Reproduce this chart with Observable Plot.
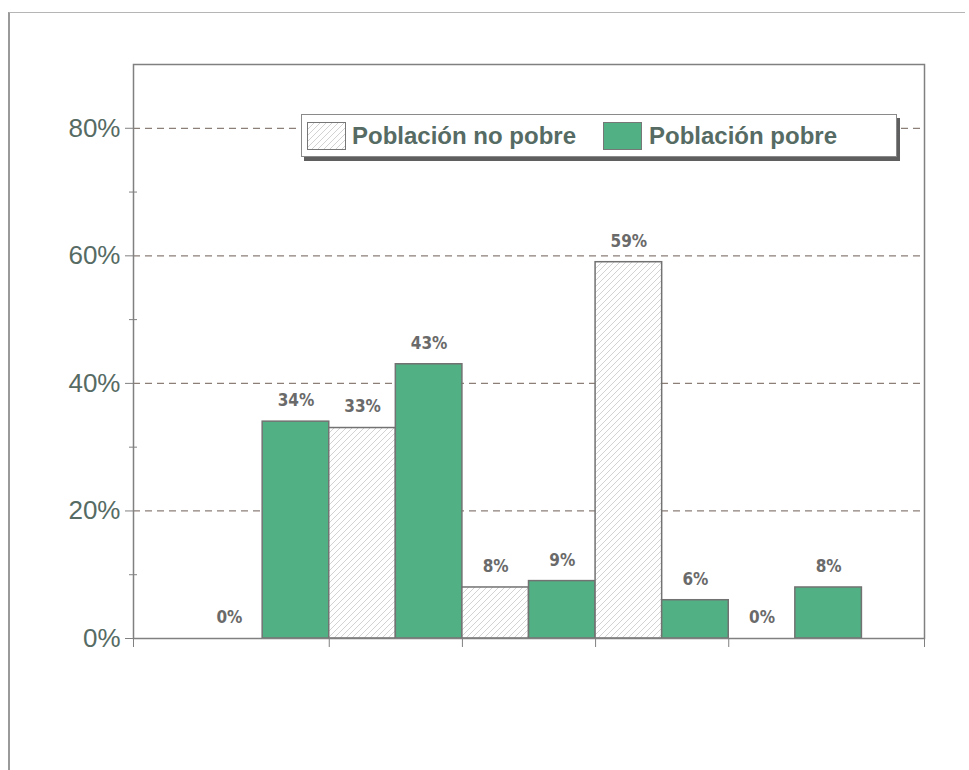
<!DOCTYPE html>
<html>
<head>
<meta charset="utf-8">
<script src="https://cdn.jsdelivr.net/npm/d3@7"></script>
<script src="https://cdn.jsdelivr.net/npm/@observablehq/plot@0.6"></script>
<style>
  html, body { margin: 0; padding: 0; background: #fff; }
  #wrap { position: relative; width: 969px; height: 770px; overflow: hidden; font-family: "Liberation Sans", Arial, sans-serif; }
  #page { position: absolute; left: 8px; top: 12px; width: 957px; height: 800px; border-top: 1px solid #b5b5b5; border-left: 2px solid #9a9a9a; box-sizing: border-box; }
  #chart { position: absolute; left: 0; top: 0; }
  #legend { position: absolute; left: 301px; top: 114px; width: 596px; height: 43px; box-sizing: border-box;
            border: 1.5px solid #8a8a8a; background: #fff; box-shadow: 3px 4px 0 #5f5f5f; }
  .sw { position: absolute; top: 7px; width: 39px; height: 28px; box-sizing: border-box; border: 1.5px solid #777; }
  .lt { position: absolute; top: 7px; font-size: 24px; font-weight: bold; color: #566b64; white-space: nowrap; }
</style>
</head>
<body>
<div id="wrap">
  <div id="page"></div>
  <div id="chart"></div>
  <div id="legend">
    <div class="sw" style="left:5px;background:url('data:image/svg+xml;utf8,<svg xmlns=%22http://www.w3.org/2000/svg%22 width=%226%22 height=%226%22><path d=%22M-1,7 L7,-1%22 stroke=%22%23d2d2d2%22 stroke-width=%221%22/></svg>') #fff;"></div>
    <div class="lt" style="left:50px;">Población no pobre</div>
    <div class="sw" style="left:301px;background:#52b085;"></div>
    <div class="lt" style="left:347px;">Población pobre</div>
  </div>
</div>
<script>
// Data
const groups = [1, 2, 3, 4, 5];
const noPobre = [0, 33, 8, 59, 0];
const pobre = [34, 43, 9, 6, 8];
const seriesNames = ["Población no pobre", "Población pobre"];
const yTicks = [0, 20, 40, 60, 80];
const yMinorTicks = [10, 30, 50, 70];
const groupBoundaries = [1, 2, 3, 4];

const rows = [];
groups.forEach((g, i) => {
  rows.push({series: seriesNames[0], x1: i, x2: i + 0.5, value: noPobre[i]});
  rows.push({series: seriesNames[1], x1: i + 0.5, x2: i + 1, value: pobre[i]});
});

const xDomain = [-0.47, groups.length + 0.47];
const labelFmt = d => d + "%";

const chart = Plot.plot({
  width: 969,
  height: 770,
  marginLeft: 133,
  marginRight: 45,
  marginTop: 64,
  marginBottom: 132,
  style: {background: "transparent", fontFamily: "Liberation Sans, Arial, sans-serif"},
  x: {type: "linear", domain: xDomain},
  y: {domain: [0, 90]},
  marks: [
    Plot.ruleY(yTicks.filter(d => d > 0), {stroke: "#8c7f78", strokeWidth: 1.2, strokeDasharray: "7,5"}),
    Plot.rectY(rows, {
      x1: "x1", x2: "x2", y1: 0, y2: "value",
      fill: d => d.series === seriesNames[0] ? "url(#hatch)" : "#52b085",
      stroke: "#727272", strokeWidth: 1.5
    }),
    Plot.text(rows, {
      x: d => (d.x1 + d.x2) / 2, y: "value", text: d => labelFmt(d.value),
      dy: -21, fontSize: 17, fontWeight: "bold", fill: "#6a6a6a",
      fontFamily: "Liberation Sans Narrow, DejaVu Sans Condensed, Arial Narrow, sans-serif"
    }),
    Plot.frame({stroke: "#808080", strokeWidth: 1.5}),
    Plot.axisY({ticks: yTicks, tickSize: 8, tickPadding: 5, tickFormat: labelFmt, fontSize: 26,
                stroke: "#808080", fill: "#566b64", label: null}),
    Plot.axisY({ticks: yMinorTicks, tickSize: 8, dx: 4, tickFormat: () => "", stroke: "#808080", label: null}),
    Plot.axisX({ticks: [xDomain[0], ...groupBoundaries, xDomain[1]], tickSize: 9, tickFormat: () => "",
                stroke: "#808080", label: null})
  ]
});

// hatch pattern definition
const ns = "http://www.w3.org/2000/svg";
const defs = document.createElementNS(ns, "defs");
defs.innerHTML = `<pattern id="hatch" patternUnits="userSpaceOnUse" width="6" height="6">
  <rect width="6" height="6" fill="#ffffff"/>
  <path d="M-1,7 L7,-1 M-2,2 L2,-2 M4,8 L8,4" stroke="#d2d2d2" stroke-width="1"/>
</pattern>`;
chart.insertBefore(defs, chart.firstChild);
document.getElementById("chart").appendChild(chart);
</script>
</body>
</html>
